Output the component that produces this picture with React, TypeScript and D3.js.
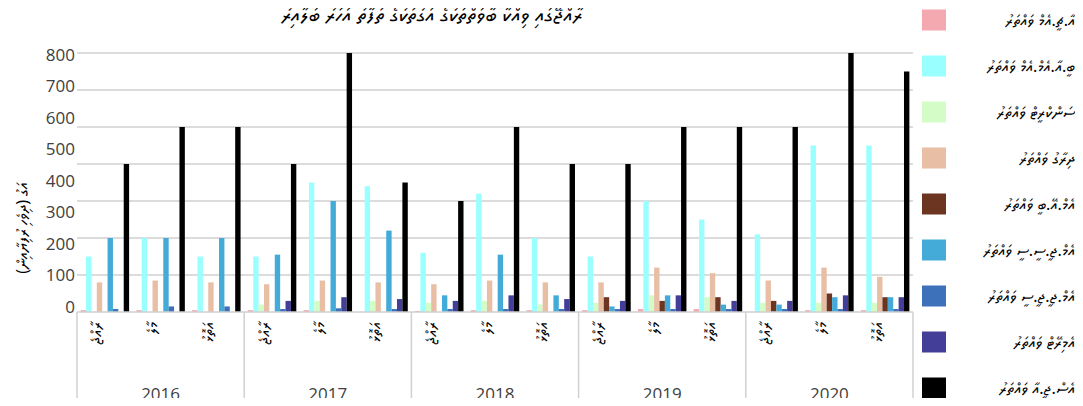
import React, { useEffect, useRef } from "react";
import * as d3 from "d3";

// years and the three sub groups under each year
const years = ["2016", "2017", "2018", "2019", "2020"];
const subGroups = ["ރާއްޖެ", "މާލެ", "އަތޮޅު"];

// legend names (series)
const seriesNames = [
  "އާ.ޗީ.އެމް ވައްތަރު",
  "ބީ.އާ.އެމް.އެމް ވައްތަރު",
  "ސަންކްރީޓް ވައްތަރު",
  "ދިރާގު ވައްތަރު",
  "އެމް.އޭ.ބީ ވައްތަރު",
  "އެމް.ޖީ.ސީ.ސީ ވައްތަރު",
  "އެމް.ޖީ.ޖީ.ސީ ވައްތަރު",
  "އެމިރޭޓް ވައްތަރު",
  "އެސް.ޖީ.އާ ވައްތަރު",
];
const seriesColors = [
  "#f4a9b0", "#99ffff", "#d3fcc6", "#e8bea5", "#6b3521",
  "#44abd9", "#3d71b9", "#433f98", "#000000",
];

// values per series, 15 groups (year x sub group)
const pinkVals =   [5, 5, 5, 5, 5, 0, 3, 5, 5, 5, 8, 8, 0, 5, 5];
const cyanVals =   [150, 200, 150, 150, 350, 340, 160, 320, 200, 150, 300, 250, 210, 450, 450];
const greenVals =  [0, 0, 0, 20, 30, 30, 25, 30, 20, 25, 45, 40, 25, 25, 25];
const peachVals =  [80, 85, 80, 75, 85, 80, 75, 85, 80, 80, 120, 105, 85, 120, 95];
const brownVals =  [0, 0, 0, 0, 0, 0, 0, 0, 0, 40, 30, 40, 30, 50, 40];
const blueVals =   [200, 200, 200, 155, 300, 220, 45, 155, 45, 15, 45, 20, 20, 40, 40];
const dblueVals =  [8, 15, 15, 8, 10, 8, 8, 8, 8, 8, 8, 8, 8, 8, 8];
const purpleVals = [0, 0, 0, 30, 40, 35, 30, 45, 35, 30, 45, 30, 30, 45, 40];
const blackVals =  [400, 500, 500, 400, 800, 350, 300, 500, 400, 400, 500, 500, 500, 800, 650];
const allVals = [pinkVals, cyanVals, greenVals, peachVals, brownVals, blueVals, dblueVals, purpleVals, blackVals];

const gridValues = [100, 200, 300, 400, 500, 600, 700];
const tickLabels = ["0", "100", "200", "300", "400", "500", "600", "700", "800"];

const title = "ރާއްޖޭގައި ވިއްކާ ބާވަތްތަކުގެ އަގުތަކުގެ ތަފާތު އަހަރު ބަލާއިރު";
const yTitle = "އަގު (ދިވެހި ރުފިޔާއިން)";

const thaanaFont = "'MV Boli', 'Faruma', 'Noto Sans Thaana', 'DejaVu Sans', sans-serif";

export default function App() {
  const ref = useRef<SVGSVGElement>(null);

  useEffect(() => {
    const width = 1083;
    const height = 406;
    const left = 77, right = 913, base = 312, top = 53;

    const svg = d3.select(ref.current)
      .attr("width", width)
      .attr("height", height);
    svg.selectAll("*").remove();

    const groupKeys: string[] = [];
    years.forEach(y => subGroups.forEach((s, i) => groupKeys.push(y + "-" + i)));

    const yearScale = d3.scaleBand().domain(years).range([left, right]);
    const groupScale = d3.scaleBand()
      .domain(groupKeys)
      .range([left, right])
      .paddingInner(0.13)
      .paddingOuter(0.065);
    const seriesScale = d3.scaleBand()
      .domain(seriesNames)
      .range([0, groupScale.bandwidth()]);
    const yScale = d3.scaleLinear().domain([0, 700]).range([base, top]).clamp(true);
    // the tick labels sit on their own spacing in the original
    const labelScale = d3.scalePoint().domain(tickLabels).range([307, 55]);

    // gridlines
    svg.append("g").selectAll("line")
      .data(gridValues)
      .enter().append("line")
      .attr("x1", left).attr("x2", right)
      .attr("y1", d => yScale(d)).attr("y2", d => yScale(d))
      .attr("stroke", "#d0d0d0").attr("stroke-width", 1.5);

    // y tick labels
    svg.append("g").selectAll("text")
      .data(tickLabels)
      .enter().append("text")
      .attr("x", 75)
      .attr("y", d => labelScale(d)!)
      .attr("dy", "0.35em")
      .attr("text-anchor", "end")
      .style("font-family", "'Open Sans', sans-serif")
      .style("font-size", "17px")
      .attr("fill", "#404040")
      .text(d => d);

    // bars
    const groups = svg.append("g").selectAll("g")
      .data(groupKeys)
      .enter().append("g")
      .attr("transform", d => `translate(${groupScale(d)},0)`);

    groups.selectAll("rect")
      .data((d, gi) => seriesNames.map((s, si) => ({ s, si, v: allVals[si][gi] })))
      .enter().append("rect")
      .attr("x", d => seriesScale(d.s)!)
      .attr("y", d => yScale(d.v))
      .attr("width", seriesScale.bandwidth())
      .attr("height", d => base - yScale(d.v))
      .attr("fill", d => seriesColors[d.si]);

    // bottom axis line and year separators
    svg.append("line")
      .attr("x1", left).attr("x2", right)
      .attr("y1", base).attr("y2", base)
      .attr("stroke", "#d0d0d0").attr("stroke-width", 1.5);

    const seps = years.map(y => yearScale(y)!).concat([right]);
    svg.append("g").selectAll("line")
      .data(seps)
      .enter().append("line")
      .attr("x1", d => d).attr("x2", d => d)
      .attr("y1", base).attr("y2", 400)
      .attr("stroke", "#d0d0d0").attr("stroke-width", 1.5);

    // year labels
    svg.append("g").selectAll("text")
      .data(years)
      .enter().append("text")
      .attr("x", d => yearScale(d)! + yearScale.bandwidth() / 2)
      .attr("y", 400)
      .attr("text-anchor", "middle")
      .style("font-family", "'Open Sans', sans-serif")
      .style("font-size", "17px")
      .attr("fill", "#404040")
      .text(d => d);

    // sub group labels (rotated)
    svg.append("g").selectAll("text")
      .data(groupKeys)
      .enter().append("text")
      .attr("transform", d => `translate(${groupScale(d)! + groupScale.bandwidth() / 2 - 8},322) rotate(-90)`)
      .attr("text-anchor", "end")
      .attr("dy", "0.35em")
      .style("font-family", thaanaFont)
      .style("font-size", "16px")
      .attr("fill", "#000")
      .text(d => subGroups[+d.split("-")[1]]);

    // y title
    svg.append("text")
      .attr("transform", "translate(22,228) rotate(-90)")
      .attr("text-anchor", "middle")
      .attr("dy", "0.35em")
      .style("font-family", thaanaFont)
      .style("font-size", "16px")
      .attr("fill", "#000")
      .text(yTitle);

    // title
    svg.append("text")
      .attr("x", 432)
      .attr("y", 22)
      .attr("text-anchor", "middle")
      .style("font-family", thaanaFont)
      .style("font-size", "21px")
      .attr("fill", "#000")
      .text(title);

    // legend
    const legend = svg.append("g").selectAll("g")
      .data(seriesNames)
      .enter().append("g")
      .attr("transform", (d, i) => `translate(0,${20 + i * 46})`);
    legend.append("rect")
      .attr("x", 922).attr("y", -10.5)
      .attr("width", 24).attr("height", 21)
      .attr("fill", (d, i) => seriesColors[i]);
    legend.append("text")
      .attr("x", 1075)
      .attr("dy", "0.35em")
      .attr("text-anchor", "end")
      .style("font-family", thaanaFont)
      .style("font-size", "16px")
      .attr("fill", "#000")
      .text(d => d);
  }, []);

  return (
    <div>
      <svg ref={ref} style={{ display: "block", margin: "-8px" }}></svg>
    </div>
  );
}
